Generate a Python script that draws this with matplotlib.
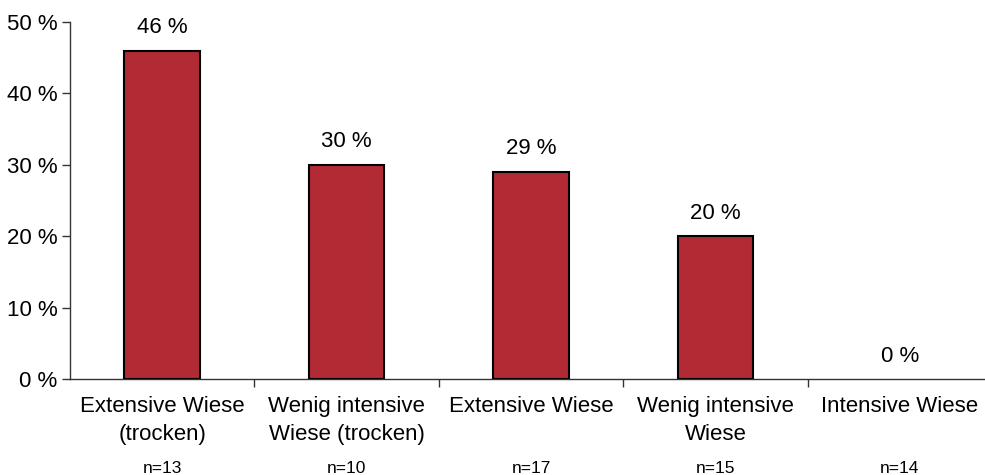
import matplotlib
matplotlib.use("Agg")
import matplotlib.pyplot as plt

categories = ["Extensive Wiese\n(trocken)", "Wenig intensive\nWiese (trocken)", "Extensive Wiese",
              "Wenig intensive\nWiese", "Intensive Wiese"]
values = [46, 30, 29, 20, 0]
n_labels = ["n=13", "n=10", "n=17", "n=15", "n=14"]
yticks = [0, 10, 20, 30, 40, 50]

plt.rcParams['font.family'] = ['Liberation Sans', 'DejaVu Sans']

fig = plt.figure(figsize=(9.85, 4.75), dpi=100)
ax = fig.add_axes([70/985, 1-379/475, (992-70)/985, (379-22)/475])

x = list(range(len(categories)))
edges = ["black" if v > 0 else "none" for v in values]
bars = ax.bar(x, values, width=0.41, color="#b22a33", edgecolor=edges, linewidth=1.5, zorder=3)

for xi, v in zip(x, values):
    ax.annotate(f"{v} %", (xi, v), xytext=(0, 9), textcoords="offset points",
                ha="center", va="bottom", fontsize=16)

ax.set_xlim(-0.5, len(categories) - 0.5)
ax.set_ylim(0, 50)
ax.set_yticks(yticks)
ax.set_yticklabels([f"{t} %" for t in yticks], fontsize=16)
ax.set_xticks(x)
ax.set_xticklabels(categories, fontsize=16, linespacing=1.45)
ax.tick_params(axis="x", which="major", length=0, pad=12)
ax.set_xticks([i + 0.5 for i in range(len(categories) - 1)], minor=True)
ax.tick_params(axis="x", which="minor", length=6, width=1, color="#333333", direction="out")
ax.tick_params(axis="y", length=6, width=1, color="#333333", direction="out", pad=3)

for s in ["top", "right"]:
    ax.spines[s].set_visible(False)
for s in ["left", "bottom"]:
    ax.spines[s].set_color("#333333")
    ax.spines[s].set_linewidth(1)

for xi, n in zip(x, n_labels):
    ax.annotate(n, (xi, 0), xytext=(0, -64.5), textcoords="offset points",
                ha="center", va="center", fontsize=12.5)

fig.savefig("out.png", dpi=100)
